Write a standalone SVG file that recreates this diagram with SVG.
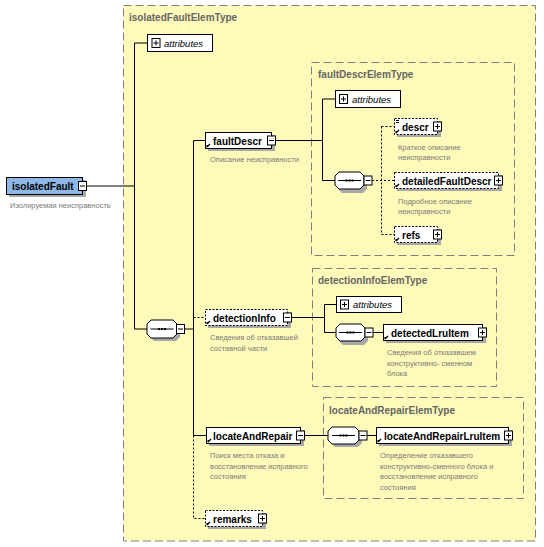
<svg xmlns="http://www.w3.org/2000/svg" xmlns:xlink="http://www.w3.org/1999/xlink" width="544" height="547" viewBox="0 0 544 547">
<style>
.type{fill:#FEFAB9;stroke:#808080;stroke-width:1;stroke-dasharray:8,4}
.ttl{font-family:"Liberation Sans",Arial,sans-serif;font-size:10px;font-weight:bold;fill:#666}
.el{fill:#fff;stroke:#000;stroke-width:1}
.opt{stroke-dasharray:2,1.5}
.sh{fill:#A8A8A8}
.nm{font-family:"Liberation Sans",Arial,sans-serif;font-size:10px;font-weight:bold;fill:#000}
.at{font-family:"Liberation Sans",Arial,sans-serif;font-size:9.5px;font-style:italic;fill:#000}
.ds{font-family:"Liberation Sans",Arial,sans-serif;font-size:7.5px;fill:#7a7a7a}
.ln{fill:none;stroke:#000;stroke-width:1}
.dt{fill:none;stroke:#000;stroke-width:1;stroke-dasharray:2,2}
</style>
<defs>
<g id="minus"><rect x="-4" y="-4.5" width="8" height="9" fill="#fff" stroke="#000"/><path d="M-2.5,0H2.5" stroke="#000"/></g>
<g id="plus"><rect x="-4" y="-4.5" width="8" height="9" fill="#fff" stroke="#000"/><path d="M-2.5,0H2.5M0,-2.5V2.5" stroke="#000"/></g>
<g id="mk"><path d="M1.5,-1.5L4.5,-4.5" stroke="#000" stroke-width="1.3"/><path d="M1,-1V-3.5H3Z" fill="#000"/></g>
<g id="seqdots"><path d="M3,0H26" stroke="#000"/><rect x="10.5" y="-1" width="2" height="2" fill="#000"/><rect x="13.5" y="-1" width="2" height="2" fill="#000"/><rect x="16.5" y="-1" width="2" height="2" fill="#000"/></g>
</defs>

<g id="isolatedFaultElemType">
<rect class="type" x="123.5" y="5.5" width="412" height="535.5"/>
<text class="ttl" x="129" y="21">isolatedFaultElemType</text>
</g>
<g id="faultDescrElemType">
<rect class="type" x="311.5" y="62.5" width="203" height="193"/>
<text class="ttl" x="318" y="78">faultDescrElemType</text>
</g>
<g id="detectionInfoElemType">
<rect class="type" x="312.5" y="268.5" width="184" height="118"/>
<text class="ttl" x="318" y="284">detectionInfoElemType</text>
</g>
<g id="locateAndRepairElemType">
<rect class="type" x="323.5" y="397.5" width="200" height="101"/>
<text class="ttl" x="329" y="414">locateAndRepairElemType</text>
</g>

<g id="connectors">
<path class="ln" d="M86.5,186H134.5M134.5,43V329M134.5,43H147.5M134.5,329H147"/>
<path class="ln" d="M184.5,329H193.5M193.5,140.5V435.5M193.5,140.5H205.5M193.5,435.5H206.5"/>
<path class="dt" d="M193.5,317.5H205.5M193.5,435.5V518.5H205.5"/>
<path class="ln" d="M275.5,140.5H322.5M322.5,99V180.5M322.5,99H335.5M322.5,180.5H335"/>
<path class="dt" d="M372,180.5H394.5M381.5,126.5V234.5M381.5,126.5H394.5M381.5,234.5H394.5"/>
<path class="ln" d="M291.5,317.5H324.5M324.5,304.5V332.5M324.5,304.5H336.5M324.5,332.5H336"/>
<path class="ln" d="M373,332.5H383.5"/>
<path class="ln" d="M304.5,435.5H328"/>
<path class="ln" d="M367,435.5H376.5"/>
</g>

<g id="isolatedFault">
<rect class="sh" x="9" y="180" width="77" height="17"/>
<rect x="6.5" y="177.5" width="76" height="17" fill="#8DB8E8" stroke="#000"/>
<text class="nm" x="12" y="189.5">isolatedFault</text>
<use xlink:href="#minus" x="82.5" y="186"/>
<text class="ds" x="10" y="208">Изолируемая неисправность</text>
</g>

<g id="attributes1">
<rect class="el" x="147.5" y="34.5" width="65" height="17"/>
<use xlink:href="#plus" x="156" y="43"/>
<text class="at" x="164" y="46.5">attributes</text>
</g>

<g id="sequence1">
<path class="sh" d="M154,323H176L180,327V337L176,341H154L150,337V327Z"/>
<path d="M151,320H173L177,324V334L173,338H151L147,334V324Z" fill="#fff" stroke="#000"/>
<use xlink:href="#seqdots" x="147.5" y="329"/>
<use xlink:href="#minus" x="180.5" y="329"/>
</g>

<g id="faultDescr">
<rect class="sh" x="208" y="135" width="67" height="16"/>
<rect class="el" x="205.5" y="132.5" width="66" height="16"/>
<use xlink:href="#mk" x="205.5" y="148.5"/>
<text class="nm" x="213" y="144.5">faultDescr</text>
<use xlink:href="#minus" x="271.5" y="140.5"/>
<text class="ds" x="210" y="162">Описание неисправности</text>
</g>

<g id="attributes2">
<rect class="el" x="335.5" y="90.5" width="65" height="17"/>
<use xlink:href="#plus" x="343.5" y="99"/>
<text class="at" x="352" y="102.5">attributes</text>
</g>

<g id="sequence2">
<path class="sh" d="M342,175H363L367,179V189L363,193H342L338,189V179Z"/>
<path d="M339,172H360L364,176V185L360,189H339L335,185V176Z" fill="#fff" stroke="#000"/>
<use xlink:href="#seqdots" x="335" y="180.5"/>
<use xlink:href="#minus" x="368" y="180.5"/>
</g>

<g id="descr">
<rect class="sh" x="397" y="121" width="44" height="16"/>
<rect class="el opt" x="394.5" y="118.5" width="43" height="16"/>
<path d="M396,120.5H399M396,122.5H399" stroke="#000"/>
<use xlink:href="#mk" x="394.5" y="134.5"/>
<text class="nm" x="402" y="130.5">descr</text>
<use xlink:href="#plus" x="437.5" y="126.5"/>
<text class="ds" x="398" y="150">Краткое описание</text>
<text class="ds" x="398" y="160">неисправности</text>
</g>

<g id="detailedFaultDescr">
<rect class="sh" x="397" y="175" width="105" height="16"/>
<rect class="el opt" x="394.5" y="172.5" width="104" height="16"/>
<use xlink:href="#mk" x="394.5" y="188.5"/>
<text class="nm" x="402" y="184.5">detailedFaultDescr</text>
<use xlink:href="#plus" x="498.5" y="180.5"/>
<text class="ds" x="398" y="204">Подробное описание</text>
<text class="ds" x="398" y="214">неисправности</text>
</g>

<g id="refs">
<rect class="sh" x="397" y="229" width="44" height="16"/>
<rect class="el opt" x="394.5" y="226.5" width="43" height="16"/>
<use xlink:href="#mk" x="394.5" y="242.5"/>
<text class="nm" x="402" y="238.5">refs</text>
<use xlink:href="#plus" x="437.5" y="234.5"/>
</g>

<g id="detectionInfo">
<rect class="sh" x="208" y="312" width="83" height="16"/>
<rect class="el opt" x="205.5" y="309.5" width="82" height="16"/>
<use xlink:href="#mk" x="205.5" y="325.5"/>
<text class="nm" x="213" y="321.5">detectionInfo</text>
<use xlink:href="#minus" x="287.5" y="317.5"/>
<text class="ds" x="210" y="340">Сведения об отказавшей</text>
<text class="ds" x="210" y="350.5">составной части</text>
</g>

<g id="attributes3">
<rect class="el" x="336.5" y="296.5" width="65" height="16"/>
<use xlink:href="#plus" x="344.5" y="304.5"/>
<text class="at" x="353" y="308">attributes</text>
</g>

<g id="sequence3">
<path class="sh" d="M343,327H364L368,331V341L364,345H343L339,341V331Z"/>
<path d="M340,324H361L365,328V337L361,341H340L336,337V328Z" fill="#fff" stroke="#000"/>
<use xlink:href="#seqdots" x="336" y="332.5"/>
<use xlink:href="#minus" x="369" y="332.5"/>
</g>

<g id="detectedLruItem">
<rect class="sh" x="386" y="327" width="100" height="16"/>
<rect class="el" x="383.5" y="324.5" width="99" height="16"/>
<use xlink:href="#mk" x="383.5" y="340.5"/>
<text class="nm" x="391" y="336.5">detectedLruItem</text>
<use xlink:href="#plus" x="482.5" y="332.5"/>
<text class="ds" x="387" y="355">Сведения об отказавшем</text>
<text class="ds" x="387" y="365.5">конструктивно- сменном</text>
<text class="ds" x="387" y="376">блока</text>
</g>

<g id="locateAndRepair">
<rect class="sh" x="209" y="430" width="95" height="16"/>
<rect class="el" x="206.5" y="427.5" width="94" height="16"/>
<use xlink:href="#mk" x="206.5" y="443.5"/>
<text class="nm" x="213" y="439.5">locateAndRepair</text>
<use xlink:href="#minus" x="300.5" y="435.5"/>
<text class="ds" x="210" y="458">Поиск места отказа и</text>
<text class="ds" x="210" y="468.5">восстановление исправного</text>
<text class="ds" x="210" y="479">состояния</text>
</g>

<g id="sequence4">
<path class="sh" d="M335,430H358L362,434V443L358,447H335L331,443V434Z"/>
<path d="M332,427H355L359,431V440L355,444H332L328,440V431Z" fill="#fff" stroke="#000"/>
<use xlink:href="#seqdots" x="329" y="435.5"/>
<use xlink:href="#minus" x="363" y="435.5"/>
</g>

<g id="locateAndRepairLruItem">
<rect class="sh" x="379" y="430" width="133" height="16"/>
<rect class="el" x="376.5" y="427.5" width="132" height="16"/>
<use xlink:href="#mk" x="376.5" y="443.5"/>
<text class="nm" x="384" y="439.5">locateAndRepairLruItem</text>
<use xlink:href="#plus" x="508.5" y="435.5"/>
<text class="ds" x="380" y="458">Определение отказавшего</text>
<text class="ds" x="380" y="468.5">конструктивно-сменного блока и</text>
<text class="ds" x="380" y="479">восстановление исправного</text>
<text class="ds" x="380" y="489.5">состояния</text>
</g>

<g id="remarks">
<rect class="sh" x="208" y="513" width="58" height="16"/>
<rect class="el opt" x="205.5" y="510.5" width="57" height="16"/>
<use xlink:href="#mk" x="205.5" y="526.5"/>
<text class="nm" x="213" y="522.5">remarks</text>
<use xlink:href="#plus" x="262.5" y="518.5"/>
</g>
</svg>
